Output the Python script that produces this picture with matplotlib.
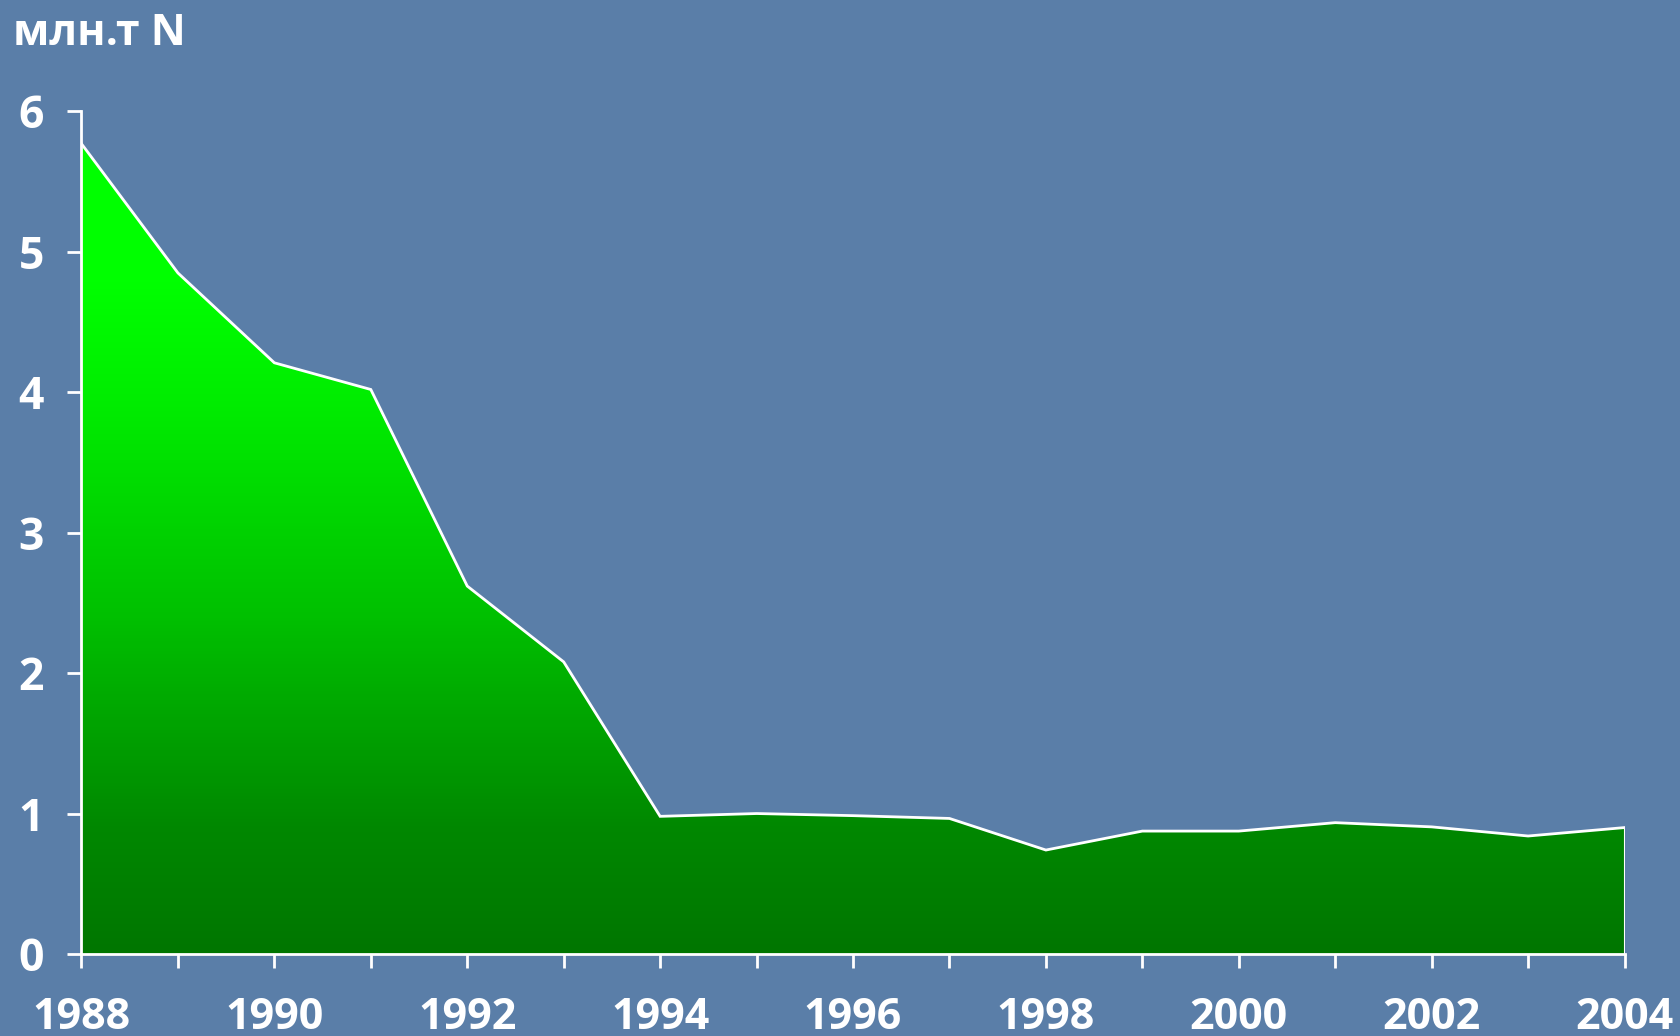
import matplotlib
matplotlib.use("Agg")
import matplotlib.pyplot as plt
import numpy as np
from matplotlib.colors import LinearSegmentedColormap

years = [1988, 1989, 1990, 1991, 1992, 1993, 1994, 1995, 1996,
         1997, 1998, 1999, 2000, 2001, 2002, 2003, 2004]
values = [5.77, 4.85, 4.21, 4.02, 2.62, 2.08, 0.98, 1.0, 0.985,
          0.965, 0.74, 0.875, 0.875, 0.935, 0.905, 0.84, 0.90]
xticks = [1988, 1990, 1992, 1994, 1996, 1998, 2000, 2002, 2004]
yticks = [0, 1, 2, 3, 4, 5, 6]
unit_label = "млн.т N"

FAM = ["Open Sans", "DejaVu Sans"]
bg = "#5a7ea8"
fig = plt.figure(figsize=(16.8, 10.36), dpi=100, facecolor=bg)
ax = fig.add_axes([0.0485, 0.0792, 0.9185, 0.8132])
ax.set_facecolor("none")

# gradient fill clipped to the area
cmap = LinearSegmentedColormap.from_list(
    "g", [(0.0, "#007600"), (0.15, "#008800"), (0.4, "#00c000"),
          (0.65, "#00ec00"), (0.8, "#00ff00"), (1.0, "#00ff00")])
grad = np.linspace(0, 1, 256).reshape(-1, 1)
poly = ax.fill_between(years, values, 0, color="none", lw=0)
img = ax.imshow(grad, cmap=cmap, origin="lower", aspect="auto",
                extent=[years[0], years[-1], 0, 6], zorder=1)
img.set_clip_path(poly.get_paths()[0], transform=ax.transData)
ax.plot(years, values, color="white", lw=2, zorder=3, solid_joinstyle="miter")
ax.plot([years[-1], years[-1]], [0, values[-1]], color="white", lw=1.5, zorder=3)
ax.set_xlim(years[0], years[-1])
ax.set_ylim(0, 6)

for s in ["top", "right"]:
    ax.spines[s].set_visible(False)
for s in ["left", "bottom"]:
    ax.spines[s].set_color("white")
    ax.spines[s].set_linewidth(2)
    ax.spines[s].set_zorder(4)

ax.set_xticks(years)
ax.set_xticklabels([str(y) if y in xticks else "" for y in years])
ax.set_yticks(yticks)
ax.set_yticklabels([str(v) for v in yticks])
ax.tick_params(axis="both", colors="white", width=2, length=10, direction="out")
ax.tick_params(axis="x", pad=20)
ax.tick_params(axis="y", pad=17)
for lab in ax.get_xticklabels():
    lab.set_fontsize(31)
    lab.set_fontweight("bold")
    lab.set_color("white")
    lab.set_family(FAM)
for lab in ax.get_yticklabels():
    lab.set_fontsize(32)
    lab.set_fontweight("bold")
    lab.set_color("white")
    lab.set_family(FAM)

fig.text(0.008, 1 - 45 / 1036, unit_label, color="white", fontsize=31,
         fontweight="bold", ha="left", va="baseline", family=FAM)

fig.savefig("out.png", dpi=100, facecolor=bg)
